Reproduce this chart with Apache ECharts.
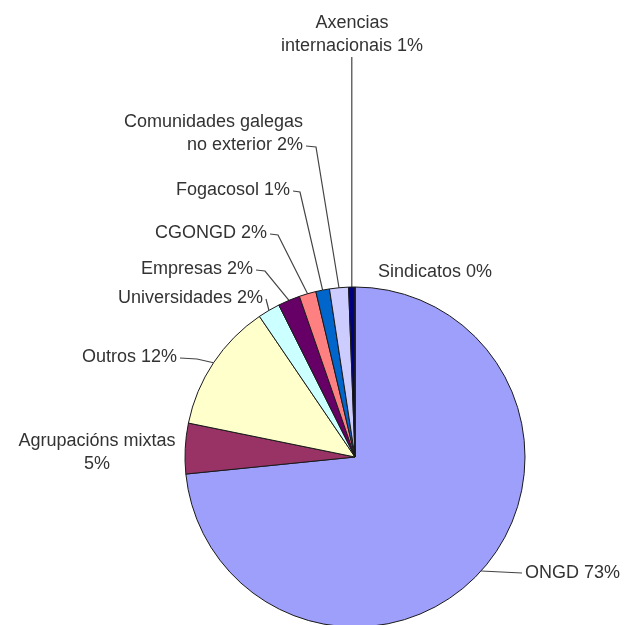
<!DOCTYPE html>
<html>
<head>
<meta charset="utf-8">
<script src="https://cdn.jsdelivr.net/npm/echarts@6/dist/echarts.min.js"></script>
<style>
html,body{margin:0;padding:0;background:#fff;}
#c{width:628px;height:625px;}
</style>
</head>
<body>
<div id="c"></div>
<script>
const categories = ['ONGD', 'Agrupacións mixtas', 'Outros', 'Universidades', 'Empresas', 'CGONGD', 'Fogacosol', 'Comunidades galegas\nno exterior', 'Axencias\ninternacionais', 'Sindicatos'];
const values = [73.4, 4.8, 12.3, 2.1, 2.1, 1.6, 1.3, 1.8, 0.6, 0];
const colors = ['#9E9EFB', '#993366', '#FFFFCC', '#CCFFFF', '#660066', '#FF8080', '#0066CC', '#CCCCFF', '#000080', '#FF00FF'];

// label placement (layout only)
const labelPlace = [
  {x: 525, y: 573, align: 'left', line: 'h'},
  {x: 97, y: 453, align: 'center', line: null, sep: '\n'},
  {x: 177, y: 357, align: 'right', line: 'b', bx: 197},
  {x: 263, y: 298, align: 'right', line: 'd'},
  {x: 253, y: 269, align: 'right', line: 'b', bx: 265},
  {x: 267, y: 233, align: 'right', line: 'b', bx: 278},
  {x: 290, y: 190, align: 'right', line: 'b', bx: 300},
  {x: 303, y: 134, align: 'right', line: 'b', bx: 316, ly: 146},
  {x: 352, y: 35, align: 'center', line: 'v'},
  {x: 378, y: 272, align: 'left', line: null}
];

const chart = echarts.init(document.getElementById('c'), null, {renderer: 'canvas'});
const data = categories.map((n, i) => ({
  name: n,
  value: values[i],
  itemStyle: {color: colors[i]},
  labelLine: {show: labelPlace[i].line != null}
}));

chart.setOption({
  animation: false,
  backgroundColor: '#ffffff',
  series: [{
    type: 'pie',
    center: [355, 457],
    radius: 170,
    startAngle: 90,
    clockwise: true,
    avoidLabelOverlap: false,
    minShowLabelAngle: 0,
    data: data,
    itemStyle: {borderColor: '#1a1a1a', borderWidth: 1},
    label: {
      show: true,
      position: 'outside',
      color: '#333333',
      fontFamily: 'Liberation Sans, Arial, sans-serif',
      fontSize: 18,
      lineHeight: 23,
      formatter: function (p) {
        const sep = labelPlace[p.dataIndex].sep || ' ';
        return p.name + sep + Math.round(p.value) + '%';
      }
    },
    labelLine: {
      show: true,
      lineStyle: {color: '#444444', width: 1.2}
    },
    labelLayout: function (params) {
      const i = params.dataIndex;
      const lp = labelPlace[i];
      const res = {x: lp.x, y: lp.y, align: lp.align, verticalAlign: 'middle'};
      const pts = params.labelLinePoints;
      if (lp.line && pts && pts.length) {
        const a = pts[0];
        if (lp.line === 'h') {
          res.labelLinePoints = [a, [lp.x - 3, lp.y], [lp.x - 3, lp.y]];
        } else if (lp.line === 'v') {
          res.labelLinePoints = [a, [a[0], lp.y + 22], [a[0], lp.y + 22]];
        } else if (lp.line === 'd') {
          res.labelLinePoints = [a, [lp.x + 3, lp.y + 1], [lp.x + 3, lp.y + 1]];
        } else {
          const ly = lp.ly != null ? lp.ly : lp.y + 1;
          res.labelLinePoints = [a, [lp.bx, ly + 1], [lp.x + 3, ly]];
        }
      }
      return res;
    }
  }]
});
</script>
</body>
</html>
